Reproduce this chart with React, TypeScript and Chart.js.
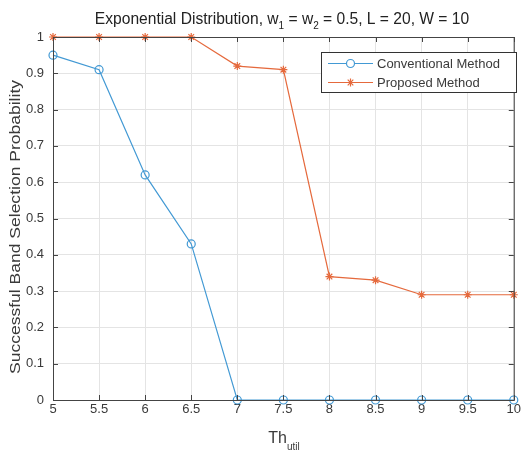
import React, { useEffect, useRef } from "react";
import { Chart, registerables } from "chart.js";
Chart.register(...registerables);

const thresholds = [5, 5.5, 6, 6.5, 7, 7.5, 8, 8.5, 9, 9.5, 10];
const conventional = [0.95, 0.91, 0.62, 0.43, 0, 0, 0, 0, 0, 0, 0];
const proposed = [1, 1, 1, 1, 0.92, 0.91, 0.34, 0.33, 0.29, 0.29, 0.29];
const xTicks = [5, 5.5, 6, 6.5, 7, 7.5, 8, 8.5, 9, 9.5, 10];
const yTicks = [0, 0.1, 0.2, 0.3, 0.4, 0.5, 0.6, 0.7, 0.8, 0.9, 1];
const seriesNames = ["Conventional Method", "Proposed Method"];
const yLabel = "Successful Band Selection Probability";

const BLUE = "#4299d4";
const ORANGE = "#e5693c";
const FONT = "'Liberation Sans', Arial, sans-serif";
const TXT = "#3a3a3a";

const decor = {
  id: "decor",
  afterDatasetsDraw(chart: any) {
    const { ctx, chartArea: a, scales } = chart;
    ctx.save();
    // box
    ctx.strokeStyle = "#444";
    ctx.lineWidth = 1;
    ctx.strokeRect(a.left + 0.5, a.top + 0.5, a.right - a.left, a.bottom - a.top);
    // inward ticks
    ctx.beginPath();
    xTicks.forEach((v) => {
      const x = Math.round(scales.x.getPixelForValue(v)) + 0.5;
      ctx.moveTo(x, a.bottom);
      ctx.lineTo(x, a.bottom - 5);
      ctx.moveTo(x, a.top);
      ctx.lineTo(x, a.top + 5);
    });
    yTicks.forEach((v) => {
      const y = Math.round(scales.y.getPixelForValue(v)) + 0.5;
      ctx.moveTo(a.left, y);
      ctx.lineTo(a.left + 5, y);
      ctx.moveTo(a.right, y);
      ctx.lineTo(a.right - 5, y);
    });
    ctx.stroke();

    // title with subscripts
    const parts: [string, boolean][] = [
      ["Exponential Distribution, w", false],
      ["1", true],
      [" = w", false],
      ["2", true],
      [" = 0.5, L = 20, W = 10", false],
    ];
    const big = "15.6px " + FONT;
    const small = "10px " + FONT;
    let total = 0;
    parts.forEach(([t, s]) => {
      ctx.font = s ? small : big;
      total += ctx.measureText(t).width;
    });
    let x = 282 - total / 2;
    ctx.fillStyle = "#222";
    ctx.textBaseline = "alphabetic";
    ctx.textAlign = "left";
    parts.forEach(([t, s]) => {
      ctx.font = s ? small : big;
      ctx.fillText(t, x, s ? 29 : 24);
      x += ctx.measureText(t).width;
    });

    // x label
    ctx.font = "16px " + FONT;
    const thW = ctx.measureText("Th").width;
    ctx.font = "10px " + FONT;
    const uW = ctx.measureText("util").width;
    let lx = 284 - (thW + uW) / 2;
    ctx.font = "16px " + FONT;
    ctx.fillStyle = TXT;
    ctx.fillText("Th", lx, 443);
    ctx.font = "10px " + FONT;
    ctx.fillText("util", lx + thW, 450);

    // y label
    ctx.save();
    ctx.translate(20, 227);
    ctx.rotate(-Math.PI / 2);
    ctx.scale(1.13, 1);
    ctx.font = "15.5px " + FONT;
    ctx.textAlign = "center";
    ctx.textBaseline = "alphabetic";
    ctx.fillStyle = TXT;
    ctx.fillText(yLabel, 0, 0);
    ctx.restore();

    // legend
    const bx = 321, by = 52, bw = 195, bh = 40;
    ctx.fillStyle = "#fff";
    ctx.fillRect(bx, by, bw, bh);
    ctx.strokeStyle = "#333";
    ctx.lineWidth = 1;
    ctx.strokeRect(bx + 0.5, by + 0.5, bw, bh);
    const rows = [
      { y: 63, color: BLUE, style: "circle", name: seriesNames[0] },
      { y: 82, color: ORANGE, style: "star", name: seriesNames[1] },
    ];
    rows.forEach((r) => {
      ctx.strokeStyle = r.color;
      ctx.lineWidth = 1.2;
      ctx.beginPath();
      ctx.moveTo(328, r.y + 0.5);
      ctx.lineTo(373, r.y + 0.5);
      ctx.stroke();
      ctx.beginPath();
      if (r.style === "circle") {
        ctx.fillStyle = "#fff";
        ctx.arc(350.5, r.y + 0.5, 4, 0, Math.PI * 2);
        ctx.fill();
        ctx.stroke();
      } else {
        const c = 350.5, cy = r.y + 0.5, rr = 4;
        ctx.moveTo(c - rr, cy); ctx.lineTo(c + rr, cy);
        ctx.moveTo(c, cy - rr); ctx.lineTo(c, cy + rr);
        const d = rr * 0.7;
        ctx.moveTo(c - d, cy - d); ctx.lineTo(c + d, cy + d);
        ctx.moveTo(c - d, cy + d); ctx.lineTo(c + d, cy - d);
        ctx.stroke();
      }
      ctx.fillStyle = TXT;
      ctx.font = "13px " + FONT;
      ctx.textBaseline = "middle";
      ctx.fillText(r.name, 377, r.y + 1);
    });
    ctx.restore();
  },
};

export default function App() {
  const ref = useRef<HTMLCanvasElement>(null);
  useEffect(() => {
    document.body.style.margin = "0";
    const chart = new Chart(ref.current!, {
      type: "line",
      data: {
        datasets: [
          {
            label: seriesNames[0],
            data: thresholds.map((t, i) => ({ x: t, y: conventional[i] })),
            borderColor: BLUE,
            backgroundColor: "rgba(255,255,255,0)",
            borderWidth: 1.2,
            pointStyle: "circle",
            pointRadius: 4,
            pointBorderWidth: 1.2,
            pointBorderColor: BLUE,
            pointBackgroundColor: "rgba(255,255,255,0)",
            clip: false as any,
          },
          {
            label: seriesNames[1],
            data: thresholds.map((t, i) => ({ x: t, y: proposed[i] })),
            borderColor: ORANGE,
            backgroundColor: ORANGE,
            borderWidth: 1.2,
            pointStyle: "star",
            pointRadius: 4,
            pointBorderWidth: 1.2,
            pointBorderColor: ORANGE,
            clip: false as any,
          },
        ],
      },
      options: {
        animation: false,
        responsive: false,
        layout: { padding: { top: 37, right: 5, left: 0, bottom: 0 } },
        plugins: { legend: { display: false }, title: { display: false }, tooltip: { enabled: false } },
        scales: {
          x: {
            type: "linear",
            min: 5,
            max: 10,
            afterBuildTicks: (s: any) => {
              s.ticks = xTicks.map((v) => ({ value: v }));
            },
            afterFit: (s: any) => {
              s.height = 51;
            },
            ticks: {
              color: TXT,
              font: { family: FONT, size: 13 },
              padding: 2,
              maxRotation: 0,
              autoSkip: false,
              callback: (v: any) => String(v),
            },
            grid: { color: "#e4e4e4", drawTicks: false, tickLength: 0 },
            border: { display: false },
          },
          y: {
            type: "linear",
            min: 0,
            max: 1,
            afterBuildTicks: (s: any) => {
              s.ticks = yTicks.map((v) => ({ value: v }));
            },
            afterFit: (s: any) => {
              s.width = 53;
            },
            ticks: {
              color: TXT,
              font: { family: FONT, size: 13 },
              padding: 9,
              autoSkip: false,
              callback: (v: any) => String(Math.round(v * 10) / 10),
            },
            grid: { color: "#e4e4e4", drawTicks: false, tickLength: 0 },
            border: { display: false },
          },
        },
      },
      plugins: [decor],
    });
    return () => chart.destroy();
  }, []);
  return (
    <div style={{ width: 523, height: 451 }}>
      <canvas ref={ref} width={523} height={451} style={{ display: "block" }} />
    </div>
  );
}
